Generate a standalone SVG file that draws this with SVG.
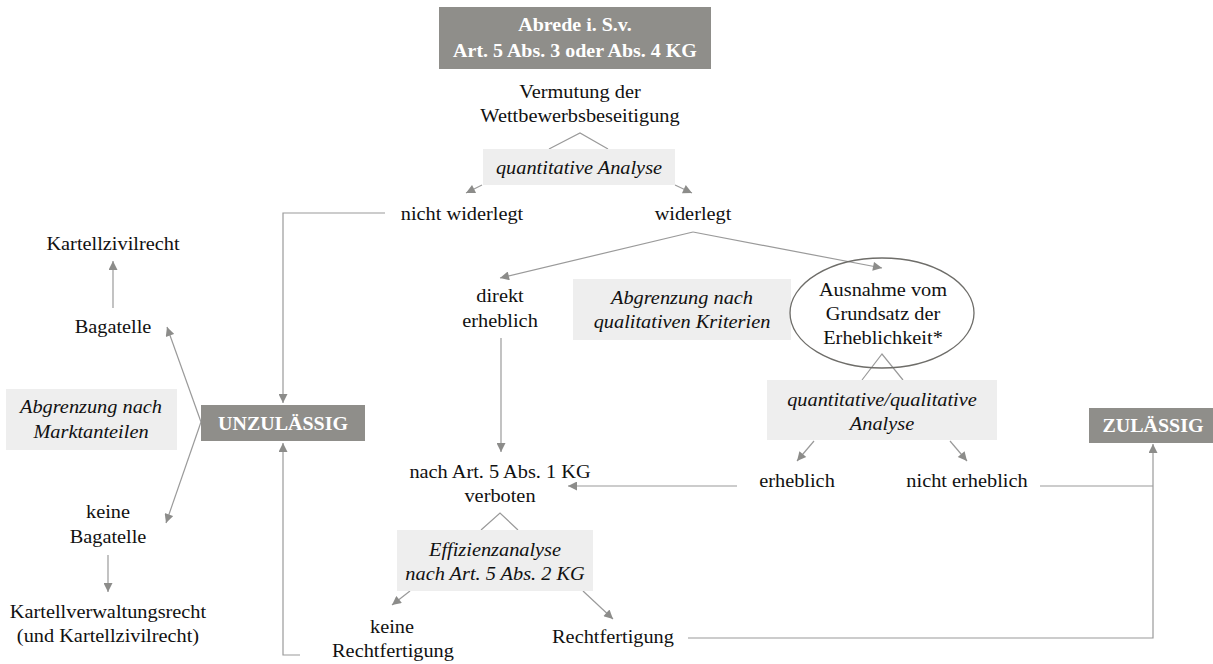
<svg xmlns="http://www.w3.org/2000/svg" width="1213" height="664" viewBox="0 0 1213 664">
<defs>
<style>
.t{font-family:"Liberation Serif","Times New Roman",serif;font-size:18px;fill:#111;text-anchor:middle}
.i{font-style:italic}
.b{font-weight:bold;fill:#fff;font-size:18.5px}
.dark{fill:#8f8e8a}
.light{fill:#eeeeee}
.ln{stroke:#9a9a9a;stroke-width:1.2;fill:none}
.ar{stroke:#9a9a9a;stroke-width:1.2;fill:none;marker-end:url(#ah)}
</style>
<marker id="ah" viewBox="0 0 10 10" refX="10" refY="5" markerWidth="11" markerHeight="9" markerUnits="userSpaceOnUse" orient="auto"><path d="M0,0 L10,5 L0,10 z" fill="#8c8c8a"/></marker>
</defs>
<rect width="1213" height="664" fill="#fff"/>

<g id="connectors">
<polyline class="ln" points="549,149 580,133 608,149"/>
<line class="ar" x1="482" y1="185" x2="466" y2="193"/>
<line class="ar" x1="675" y1="185" x2="692" y2="193"/>
<polyline class="ar" points="385,213 283,213 283,403"/>
<line class="ar" x1="693" y1="232" x2="500" y2="278"/>
<line class="ar" x1="693" y1="232" x2="882" y2="268"/>
<line class="ar" x1="501" y1="338" x2="501" y2="452"/>
<polyline class="ln" points="862,380 882,354 903,380"/>
<line class="ar" x1="814" y1="441" x2="797" y2="461"/>
<line class="ar" x1="950" y1="441" x2="967" y2="461"/>
<line class="ar" x1="737" y1="486" x2="568" y2="486"/>
<line class="ln" x1="1040" y1="486" x2="1153" y2="486"/>
<polyline class="ar" points="688,638 1153,638 1153,444"/>
<polyline class="ln" points="481,530 500,513 518,530"/>
<line class="ar" x1="410" y1="591" x2="392" y2="605"/>
<line class="ar" x1="583" y1="591" x2="613" y2="619"/>
<polyline class="ar" points="300,655 283,655 283,443"/>
<line class="ar" x1="113" y1="308" x2="113" y2="261"/>
<line class="ar" x1="201" y1="422" x2="167" y2="327"/>
<line class="ar" x1="201" y1="422" x2="166" y2="523"/>
<line class="ar" x1="108" y1="555" x2="108" y2="592"/>
</g>

<g id="abrede">
<rect class="dark" x="439" y="7" width="272" height="62"/>
<text class="t b" transform="translate(575,31) scale(1.08,1)">Abrede i. S.v.</text>
<text class="t b" transform="translate(575,57) scale(1.08,1)">Art. 5 Abs. 3 oder Abs. 4 KG</text>
</g>

<g id="vermutung">
<text class="t" transform="translate(580,98) scale(1.13,1)">Vermutung der</text>
<text class="t" transform="translate(580,122) scale(1.13,1)">Wettbewerbsbeseitigung</text>
</g>

<g id="quant-analyse">
<rect class="light" x="483" y="149" width="192" height="36"/>
<text class="t i" transform="translate(579,174) scale(1.13,1)">quantitative Analyse</text>
</g>

<g id="nicht-widerlegt">
<text class="t" transform="translate(462,220) scale(1.13,1)">nicht widerlegt</text>
</g>

<g id="widerlegt">
<text class="t" transform="translate(693,220) scale(1.13,1)">widerlegt</text>
</g>

<g id="direkt-erheblich">
<text class="t" transform="translate(500,302) scale(1.13,1)">direkt</text>
<text class="t" transform="translate(500,327) scale(1.13,1)">erheblich</text>
</g>

<g id="abgrenzung-qual">
<rect class="light" x="573" y="279" width="218" height="61"/>
<text class="t i" transform="translate(682,304) scale(1.13,1)">Abgrenzung nach</text>
<text class="t i" transform="translate(682,328) scale(1.13,1)">qualitativen Kriterien</text>
</g>

<g id="ausnahme">
<ellipse cx="882" cy="313" rx="92" ry="55" fill="none" stroke="#6e6d69" stroke-width="1.3"/>
<text class="t" transform="translate(883,296) scale(1.13,1)">Ausnahme vom</text>
<text class="t" transform="translate(883,320) scale(1.13,1)">Grundsatz der</text>
<text class="t" transform="translate(883,344) scale(1.13,1)">Erheblichkeit*</text>
</g>

<g id="qq-analyse">
<rect class="light" x="767" y="380" width="230" height="60"/>
<text class="t i" transform="translate(882,406) scale(1.13,1)">quantitative/qualitative</text>
<text class="t i" transform="translate(882,430) scale(1.13,1)">Analyse</text>
</g>

<g id="erheblich">
<text class="t" transform="translate(797,487) scale(1.13,1)">erheblich</text>
</g>

<g id="nicht-erheblich">
<text class="t" transform="translate(967,487) scale(1.13,1)">nicht erheblich</text>
</g>

<g id="zulaessig">
<rect class="dark" x="1089" y="408" width="128" height="35"/>
<text class="t b" transform="translate(1153,432) scale(1.08,1)">ZULÄSSIG</text>
</g>

<g id="verboten">
<text class="t" transform="translate(500,478) scale(1.13,1)">nach Art. 5 Abs. 1 KG</text>
<text class="t" transform="translate(500,502) scale(1.13,1)">verboten</text>
</g>

<g id="effizienz">
<rect class="light" x="397" y="530" width="196" height="61"/>
<text class="t i" transform="translate(495,556) scale(1.13,1)">Effizienzanalyse</text>
<text class="t i" transform="translate(495,580) scale(1.13,1)">nach Art. 5 Abs. 2 KG</text>
</g>

<g id="keine-rechtfertigung">
<text class="t" transform="translate(392,633) scale(1.13,1)">keine</text>
<text class="t" transform="translate(393,657) scale(1.13,1)">Rechtfertigung</text>
</g>

<g id="rechtfertigung">
<text class="t" transform="translate(613,643) scale(1.13,1)">Rechtfertigung</text>
</g>

<g id="unzulaessig">
<rect class="dark" x="201" y="405" width="164" height="36"/>
<text class="t b" transform="translate(283,430) scale(1.08,1)">UNZULÄSSIG</text>
</g>

<g id="kartellzivilrecht">
<text class="t" transform="translate(113,250) scale(1.13,1)">Kartellzivilrecht</text>
</g>

<g id="bagatelle">
<text class="t" transform="translate(113,333) scale(1.13,1)">Bagatelle</text>
</g>

<g id="abgrenzung-markt">
<rect class="light" x="6" y="389" width="171" height="61"/>
<text class="t i" transform="translate(91,413) scale(1.13,1)">Abgrenzung nach</text>
<text class="t i" transform="translate(91,438) scale(1.13,1)">Marktanteilen</text>
</g>

<g id="keine-bagatelle">
<text class="t" transform="translate(108,518) scale(1.13,1)">keine</text>
<text class="t" transform="translate(108,543) scale(1.13,1)">Bagatelle</text>
</g>

<g id="kartellverwaltungsrecht">
<text class="t" transform="translate(108,618) scale(1.13,1)">Kartellverwaltungsrecht</text>
<text class="t" transform="translate(108,642) scale(1.13,1)">(und Kartellzivilrecht)</text>
</g>
</svg>
